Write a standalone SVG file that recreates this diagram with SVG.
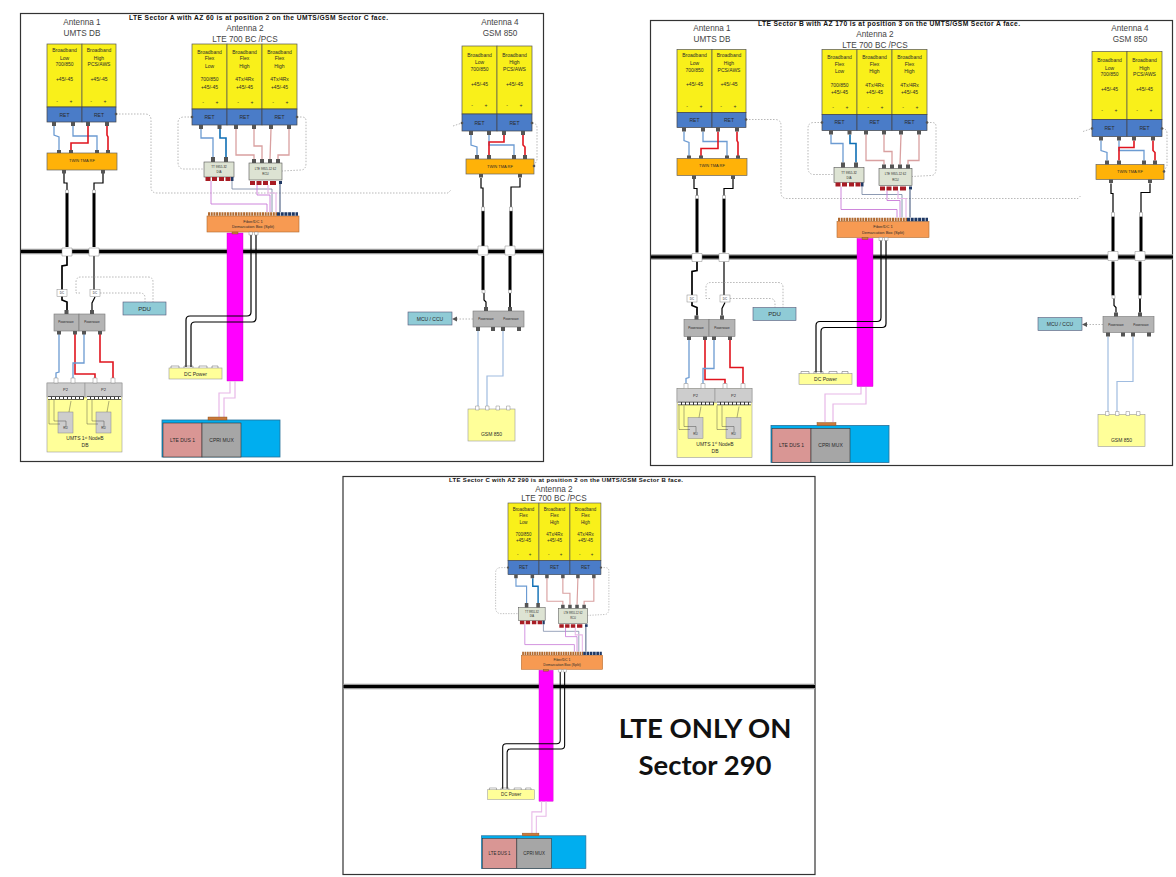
<svg xmlns="http://www.w3.org/2000/svg" width="1176" height="877" viewBox="0 0 1176 877">
<style>
text{font-family:"Liberation Sans",Arial,sans-serif;text-anchor:middle;fill:#2a2a2a}
.ttl{font-size:6.7px;font-weight:bold;fill:#111;text-anchor:start}
.h{font-size:8.2px;fill:#444}
.f5{font-size:5px}.f4{font-size:4px}.f3{font-size:3px}.f6{font-size:6px}
.big{font-family:Lato,"Liberation Sans",sans-serif;font-weight:bold;font-size:27.5px;fill:#111}
.fr{fill:#fff;stroke:#333;stroke-width:1.2}
.y{fill:#F9F01A;stroke:#555;stroke-width:.7}
.b{fill:#4A7CC8;stroke:#444;stroke-width:.7}
.tma{fill:#FFB208;stroke:#666;stroke-width:.7}
.grey{fill:#B4B4B4;stroke:#777;stroke-width:.6}
.py{fill:#FFFF99;stroke:#999;stroke-width:.6}
.pg{fill:#CDCDCD;stroke:#888;stroke-width:.5}
.rcu{fill:#DDE3D3;stroke:#555;stroke-width:.6}
.dem{fill:#F79A52;stroke:#B06A30;stroke-width:.6}
.teal{fill:#8FCBD6;stroke:#557;stroke-width:.6}
.cy{fill:#00AEEF;stroke:#26709A;stroke-width:.8}
.dus{fill:#D99694;stroke:#333;stroke-width:.6}
.mux{fill:#A6A6A6;stroke:#333;stroke-width:.6}
.mag{fill:#FF00FF;stroke:#C000C0;stroke-width:.4}
.wh{fill:#fff;stroke:#888;stroke-width:.5}
.pt{fill:#555}.rp{fill:#A81C24}.np{fill:#1F3864}.op{fill:#CC7A3A;stroke:#7A4A20;stroke-width:.4}
.w{fill:none}
.bl{stroke:#6C9BD2;stroke-width:1.3}.dbl{stroke:#0F6FB5;stroke-width:1.6}
.rd{stroke:#E0141E;stroke-width:1.6}.pk{stroke:#D9A0A0;stroke-width:1.3}
.mg{stroke:#C878D8;stroke-width:.9}.pp{stroke:#E8B8E8;stroke-width:1.2}
.nv{stroke:#1F3864;stroke-width:.9}.gb{stroke:#7080A0;stroke-width:.8}
.lb{stroke:#A0BCE0;stroke-width:1.2}
.k1{stroke:#000;stroke-width:1.2}.k2{stroke:#000;stroke-width:1.7}.k3{stroke:#000;stroke-width:3}
.th{stroke:#333;stroke-width:.4}
.ds{stroke:#9a9a9a;stroke-width:.7;stroke-dasharray:1.5 1.5}
.hg{stroke:#999;stroke-width:5.5}.hk{stroke:#000;stroke-width:3}
.rowk{stroke:#333;stroke-width:3.4}.rowo{stroke:#fff;stroke-width:2.2;stroke-dasharray:3 1}
</style>

<!-- ================ PANEL A ================ -->
<g id="panel-a">
<rect id="a-frame" class="fr" x="20.5" y="13.5" width="523" height="448"/>
<text class="ttl" x="129" y="19.5" textLength="259">LTE Sector A with AZ 60 is at position 2 on the UMTS/GSM Sector C face.</text>
<text class="h" x="82" y="25">Antenna 1</text><text class="h" x="82" y="36">UMTS DB</text>
<text class="h" x="245" y="31">Antenna 2</text><text class="h" x="245" y="42">LTE 700 BC /PCS</text>
<text class="h" x="500" y="25">Antenna 4</text><text class="h" x="500" y="36">GSM 850</text>
<g id="a-wall"><path class="w hg" d="M21 251.5H543"/><path class="w hk" d="M21 251.5H543"/></g>
<g id="a-fiber"><rect class="mag" x="227" y="233" width="16" height="148"/></g>
<g id="a-connectors">
<path class="w bl" d="M54 126V135L59 137V152"/><path class="w bl" d="M73 126V136H97V152"/><path class="w rd" d="M88 126V143H71V152"/><path class="w rd" d="M107 126V135L108 137V152"/>
<path class="w k1" d="M64 173V183H67V192"/><path class="w k1" d="M103 173V183H94V192"/>
<path class="w k3" d="M67 193V247"/><path class="w k3" d="M94 193V247"/>
<path class="w k2" d="M67 256V265L62 266V300L67 302V310"/><path class="w k1" d="M94 256V290"/><path class="w k1" d="M95 297L92 303V310"/>
<path class="w bl" d="M59 334V372L56 373V380"/><path class="w rd" d="M75 334V374H95V380"/><path class="w bl" d="M84 334V363H73V380"/><path class="w rd" d="M100 334V362H113V380"/>
<path class="w ds" d="M80 293H76V282Q76 277 81 277H148Q153 277 153 282V302"/><path class="w ds" d="M100 293H140Q145 293 145 298V302"/>
<path class="w bl" d="M201 129V138H213V157"/><path class="w dbl" d="M220 129V138H226V157"/>
<path class="w pk" d="M236 129V155H254V159"/><path class="w pk" d="M254 129V146H262V159"/><path class="w pk" d="M271 129L270 159"/><path class="w pk" d="M289 129V155H278V159"/>
<path class="w ds" d="M192 117H184Q178 117 178 123V162Q178 169 184 169H204"/><path class="w ds" d="M297 117H302Q306 117 306 121V163Q306 170 301 170L282 171"/>
<path class="w ds" d="M116 114H145Q151 114 151 120V187Q151 193 157 193H448L451 190"/>
<path class="w ds" d="M453 126L462 123"/><path class="w ds" d="M532 123Q537 123 537 128V160L534 166"/>
<path class="w gb" d="M232 181V189H272V212"/><path class="w mg" d="M211 181V204H267V212"/><path class="w mg" d="M257 185V195H270V212"/><path class="w pp" d="M268 185V193H276V212"/><path class="w nv" d="M280 184V212"/>
<path class="w k1" d="M251 233V312Q251 316 247 316H190Q186 316 186 320V367"/><path class="w k1" d="M256 233V318Q256 322 252 322H195Q191 322 191 326V367"/>
<path class="w pp" d="M230 381V393H219V418"/><path class="w pp" d="M235 381V398H224V418"/>
<path class="w bl" d="M471 135V145L477 147V155"/><path class="w bl" d="M489 135V145H514V155"/><path class="w rd" d="M504 135V142H489V155"/><path class="w rd" d="M523 135V145L525 147V155"/>
<path class="w k1" d="M481 178V188H483V207"/><path class="w k1" d="M520 178V187H511V207"/>
<path class="w k3" d="M483 211V246"/><path class="w k3" d="M511 211V246"/><path class="w k3" d="M483 256V290"/><path class="w k3" d="M510 256V290"/>
<path class="w k1" d="M484 292V300L486 302V307"/><path class="w k2" d="M510 292V307"/>
<path class="w lb" d="M478 331V408"/><path class="w lb" d="M503 331V376H487V408"/>
<path class="w ds" d="M473 319H456"/><path class="pt" d="M452 319L457 316.5V321.5Z"/>
</g>
<g id="a-couplers"><path class="wh" d="M62 248h10v8h-10zM89 248h10v8h-10zM478 246h10v9h-10zM505 246h10v9h-10zM65.500 190h3v3h-3zM92.500 190h3v3h-3zM481.500 207h3v4h-3zM509.500 207h3v4h-3zM482 290h3v3h-3zM508.500 290h3v3h-3z"/></g>
<g id="a-ant1">
<rect class="y" x="47" y="44" width="35" height="63"/><rect class="y" x="82" y="44" width="34" height="63"/>
<rect class="b" x="47" y="107" width="35" height="15"/><rect class="b" x="82" y="107" width="34" height="15"/>
<path class="pt" d="M52 122h4v4h-4zM71 122h4v4h-4zM86 122h4v4h-4zM105 122h4v4h-4z"/><circle class="pt" cx="116" cy="114" r="1.300"/>
<text class="f5" x="64.500" y="51.500">Broadband</text><text class="f5" x="64.500" y="59.500">Low</text><text class="f5" x="64.500" y="66">700/850</text><text class="f5" x="64.500" y="80.500">+45/-45</text><text class="f5" x="57" y="102.500">-</text><text class="f5" x="71" y="102.500">+</text><text class="f5" x="64.500" y="116.500">RET</text>
<text class="f5" x="99" y="51.500">Broadband</text><text class="f5" x="99" y="59.500">High</text><text class="f5" x="99" y="66">PCS/AWS</text><text class="f5" x="99" y="80.500">+45/-45</text><text class="f5" x="91" y="102.500">-</text><text class="f5" x="105" y="102.500">+</text><text class="f5" x="99" y="116.500">RET</text>
</g>
<g id="a-tma1"><rect class="tma" x="47" y="153" width="70" height="17"/><path class="pt" d="M57 150h4v3h-4zM69 150h4v3h-4zM95 150h4v3h-4zM106 150h4v3h-4zM62 170h4v3.500h-4zM101 170h4v3.500h-4z"/><text class="f4" x="82" y="161.500">TWIN TMA RF</text></g>
<g id="a-diplexer">
<rect class="wh" x="57" y="289.500" width="10" height="7"/><rect class="wh" x="90" y="289.500" width="10" height="7"/><text class="f3" x="62" y="294">DC</text><text class="f3" x="95" y="294">DC</text>
<rect class="grey" x="54" y="314" width="25" height="17"/><rect class="grey" x="79" y="314" width="26" height="17"/>
<path class="pt" d="M64.500 310h4v4h-4zM90 310h4v4h-4zM57 331h4v3.500h-4zM73 331h4v3.500h-4zM82 331h4v3.500h-4zM98 331h4v3.500h-4z"/>
<text class="f3" x="66" y="323">Powerwave</text><text class="f3" x="92" y="323">Powerwave</text>
</g>
<g id="a-nodeb">
<rect class="py" x="47" y="383" width="75" height="69"/><rect class="pg" x="47" y="383" width="38" height="14"/><rect class="pg" x="85" y="383" width="37" height="14"/>
<path class="wh" d="M54 378h4v5h-4zM71 378h4v5h-4zM93 378h4v5h-4zM111 378h4v5h-4z"/>
<path class="w rowk" d="M48 398H84M87 398H121"/><path class="w rowo" d="M48 398H84M87 398H121"/>
<text class="f4" x="65.500" y="391">P2</text><text class="f4" x="103.500" y="391">P2</text>
<rect class="pg" x="58" y="412" width="15" height="21"/><rect class="pg" x="96" y="412" width="15" height="21"/>
<path class="w th" d="M49 400V424H60M54 400V421H66V427M71 401L69 412M87 400V424H98M92 400V421H104V427M109 401L107 412"/>
<text class="f3" x="65.500" y="429">RU</text><text class="f3" x="103.500" y="429">RU</text>
<text class="f5" x="85" y="440">UMTS 1<tspan font-size="3" dy="-1.500">st</tspan><tspan dy="1.500"> NodeB</tspan></text><text class="f5" x="85" y="447">DB</text>
</g>
<g id="a-pdu"><rect class="teal" x="123" y="302" width="43" height="13"/><text class="f6" x="144.500" y="310.500">PDU</text></g>
<g id="a-ant2">
<rect class="y" x="192" y="44" width="35" height="65"/><rect class="y" x="227" y="44" width="35" height="65"/><rect class="y" x="262" y="44" width="35" height="65"/>
<rect class="b" x="192" y="109" width="35" height="16"/><rect class="b" x="227" y="109" width="35" height="16"/><rect class="b" x="262" y="109" width="35" height="16"/>
<path class="pt" d="M199 125h4v4h-4zM217.500 125h4v4h-4zM234 125h4v4h-4zM252 125h4v4h-4zM269 125h4v4h-4zM287 125h4v4h-4z"/><circle class="pt" cx="192" cy="117" r="1.300"/><circle class="pt" cx="297" cy="117" r="1.300"/>
<text class="f5" x="209.500" y="53.500">Broadband</text><text class="f5" x="209.500" y="60">Flex</text><text class="f5" x="209.500" y="67.700">Low</text><text class="f5" x="209.500" y="81">700/850</text><text class="f5" x="209.500" y="88.500">+45/-45</text><text class="f5" x="203" y="103.500">-</text><text class="f5" x="217" y="103.500">+</text><text class="f5" x="209.500" y="118.500">RET</text>
<text class="f5" x="244.500" y="53.500">Broadband</text><text class="f5" x="244.500" y="60">Flex</text><text class="f5" x="244.500" y="67.700">High</text><text class="f5" x="244.500" y="81">4Tx/4Rx</text><text class="f5" x="244.500" y="88.500">+45/-45</text><text class="f5" x="238" y="103.500">-</text><text class="f5" x="252" y="103.500">+</text><text class="f5" x="244.500" y="118.500">RET</text>
<text class="f5" x="279.500" y="53.500">Broadband</text><text class="f5" x="279.500" y="60">Flex</text><text class="f5" x="279.500" y="67.700">High</text><text class="f5" x="279.500" y="81">4Tx/4Rx</text><text class="f5" x="279.500" y="88.500">+45/-45</text><text class="f5" x="273" y="103.500">-</text><text class="f5" x="287" y="103.500">+</text><text class="f5" x="279.500" y="118.500">RET</text>
</g>
<g id="a-diplexer2"><rect class="rcu" x="204" y="162" width="30" height="15"/><path class="pt" d="M211 157h4v5h-4zM224 157h4v5h-4z"/><path class="rp" d="M205.500 177h5v4h-5zM212 177h5v4h-5zM219 177h5v4h-5zM225.500 177h5v4h-5z"/><path class="np" d="M231 177h2.500v4h-2.500z"/><text class="f3" x="219" y="168">TT 9955-32</text><text class="f3" x="219" y="173">DIA</text></g>
<g id="a-diplexer3"><rect class="rcu" x="249" y="163" width="33" height="17"/><path class="pt" d="M252 159h4v4h-4zM260 159h4v4h-4zM268 159h4v4h-4zM276 159h4v4h-4z"/><path class="rp" d="M250 181h5v4h-5zM256.500 181h5v4h-5zM263 181h5v4h-5zM270 181h6v4h-6z"/><path class="np" d="M279 181h3v3h-3z"/><text class="f3" x="265.500" y="169.500">LTE 9955-12 62</text><text class="f3" x="265.500" y="175">RCU</text></g>
<g id="a-demarc"><rect class="dem" x="207" y="216" width="92" height="16"/><path class="w" stroke="#B06A30" stroke-width="3.600" stroke-dasharray="2 .7" d="M208 214H277"/><path class="w" stroke="#1F3864" stroke-width="3.600" stroke-dasharray="3 .7" d="M277 214H298"/><text class="f4" x="253" y="222.500">Fiber/DC 1</text><text class="f4" x="253" y="228">Demarcation Box (Split)</text><path class="wh" d="M249 232h3.500v3h-3.500zM254.500 232h3.500v3h-3.500z"/><rect class="op" x="232" y="232" width="6" height="2"/></g>
<g id="a-dcpower"><rect class="py" x="169" y="368" width="53" height="11"/><path class="w th" d="M171 368v-2h8v2M184 368v-2h9v2M199 368v-2h8v2M212 368v-2h6v2"/><text class="f5" x="195.500" y="375.500">DC Power</text></g>
<g id="a-bbu"><rect class="cy" x="162" y="420" width="118" height="37"/><rect class="dus" x="163" y="423" width="39" height="34"/><rect class="mux" x="202" y="423" width="39" height="34"/><rect class="op" x="208" y="417" width="19" height="3"/><text class="f5" x="182.500" y="441.500">LTE DUS 1</text><text class="f5" x="221.500" y="441.500">CPRI MUX</text></g>
<g id="a-ant4">
<rect class="y" x="462" y="46" width="35" height="68"/><rect class="y" x="497" y="46" width="35" height="68"/>
<rect class="b" x="462" y="114" width="35" height="17"/><rect class="b" x="497" y="114" width="35" height="17"/>
<path class="pt" d="M469 131h4v4h-4zM487 131h4v4h-4zM502 131h4v4h-4zM521 131h4v4h-4z"/><circle class="pt" cx="462" cy="123" r="1.300"/><circle class="pt" cx="532" cy="123" r="1.300"/>
<text class="f5" x="479.500" y="56.700">Broadband</text><text class="f5" x="479.500" y="64">Low</text><text class="f5" x="479.500" y="70.700">700/850</text><text class="f5" x="479.500" y="85.700">+45/-45</text><text class="f5" x="472" y="106.700">-</text><text class="f5" x="486" y="106.700">+</text><text class="f5" x="479.500" y="124.500">RET</text>
<text class="f5" x="514.500" y="56.700">Broadband</text><text class="f5" x="514.500" y="64">High</text><text class="f5" x="514.500" y="70.700">PCS/AWS</text><text class="f5" x="514.500" y="85.700">+45/-45</text><text class="f5" x="507" y="106.700">-</text><text class="f5" x="521" y="106.700">+</text><text class="f5" x="514.500" y="124.500">RET</text>
</g>
<g id="a-tma4"><rect class="tma" x="466" y="159" width="68" height="15"/><path class="pt" d="M475 155h4v4h-4zM487 155h4v4h-4zM512 155h4v4h-4zM523 155h4v4h-4zM479 174h4v3.500h-4zM518 174h4v3.500h-4z"/><circle class="pt" cx="534" cy="166" r="1.300"/><text class="f4" x="500" y="167.500">TWIN TMA RF</text></g>
<g id="a-diplexer4"><rect class="grey" x="473" y="311" width="51" height="16"/><path class="pt" d="M484 307h4v4h-4zM508 307h4v4h-4zM476 327h4v4h-4zM491 327h4v4h-4zM501 327h4v4h-4zM517 327h4v4h-4z"/><text class="f3" x="486" y="320">Powerwave</text><text class="f3" x="511" y="320">Powerwave</text></g>
<g id="a-mcu"><rect class="teal" x="408" y="312" width="44" height="13"/><text class="f5" x="430" y="320.500">MCU / CCU</text></g>
<g id="a-gsm"><rect class="py" x="468" y="409" width="47" height="32"/><path class="wh" d="M475.500 406h3.500v4h-3.500zM485.500 406h3.500v4h-3.500zM496 406h3.500v4h-3.500zM506.500 406h3.500v4h-3.500z"/><text class="f5" x="491.500" y="436">GSM 850</text></g>
</g>

<!-- ================ PANEL B ================ -->
<g id="panel-b">
<rect id="b-frame" class="fr" x="650.500" y="20.500" width="522" height="445"/>
<text class="ttl" x="758" y="25.500" textLength="262">LTE Sector B with AZ 170 is at position 3 on the UMTS/GSM Sector A face.</text>
<g transform="translate(630,5.500)">
<text class="h" x="82" y="25">Antenna 1</text><text class="h" x="82" y="36">UMTS DB</text>
<text class="h" x="245" y="31">Antenna 2</text><text class="h" x="245" y="42">LTE 700 BC /PCS</text>
<text class="h" x="500" y="25">Antenna 4</text><text class="h" x="500" y="36">GSM 850</text>
<g id="b-wall"><path class="w hg" d="M21 251.500H543"/><path class="w hk" d="M21 251.500H543"/></g>
<g id="b-fiber"><rect class="mag" x="227" y="233" width="16" height="148"/></g>
<g id="b-connectors">
<path class="w bl" d="M54 126V135L59 137V152"/><path class="w bl" d="M73 126V136H97V152"/><path class="w rd" d="M88 126V143H71V152"/><path class="w rd" d="M107 126V135L108 137V152"/>
<path class="w k1" d="M64 173V183H67V192"/><path class="w k1" d="M103 173V183H94V192"/>
<path class="w k3" d="M67 193V247"/><path class="w k3" d="M94 193V247"/>
<path class="w k2" d="M67 256V265L62 266V300L67 302V310"/><path class="w k1" d="M94 256V290"/><path class="w k1" d="M95 297L92 303V310"/>
<path class="w bl" d="M59 334V372L56 373V380"/><path class="w rd" d="M75 334V374H95V380"/><path class="w bl" d="M84 334V363H73V380"/><path class="w rd" d="M100 334V362H113V380"/>
<path class="w ds" d="M80 293H76V282Q76 277 81 277H148Q153 277 153 282V302"/><path class="w ds" d="M100 293H140Q145 293 145 298V302"/>
<path class="w bl" d="M201 129V138H213V157"/><path class="w dbl" d="M220 129V138H226V157"/>
<path class="w pk" d="M236 129V155H254V159"/><path class="w pk" d="M254 129V146H262V159"/><path class="w pk" d="M271 129L270 159"/><path class="w pk" d="M289 129V155H278V159"/>
<path class="w ds" d="M192 117H184Q178 117 178 123V162Q178 169 184 169H204"/><path class="w ds" d="M297 117H302Q306 117 306 121V163Q306 170 301 170L282 171"/>
<path class="w ds" d="M116 114H145Q151 114 151 120V187Q151 193 157 193H448L451 190"/>
<path class="w ds" d="M453 126L462 123"/><path class="w ds" d="M532 123Q537 123 537 128V160L534 166"/>
<path class="w gb" d="M232 181V189H272V212"/><path class="w mg" d="M211 181V204H267V212"/><path class="w mg" d="M257 185V195H270V212"/><path class="w pp" d="M268 185V193H276V212"/><path class="w nv" d="M280 184V212"/>
<path class="w k1" d="M251 233V312Q251 316 247 316H190Q186 316 186 320V367"/><path class="w k1" d="M256 233V318Q256 322 252 322H195Q191 322 191 326V367"/>
<path class="w bl" d="M471 135V145L477 147V155"/><path class="w bl" d="M489 135V145H514V155"/><path class="w rd" d="M504 135V142H489V155"/><path class="w rd" d="M523 135V145L525 147V155"/>
<path class="w k1" d="M481 178V188H483V207"/><path class="w k1" d="M520 178V187H511V207"/>
<path class="w k3" d="M483 211V246"/><path class="w k3" d="M511 211V246"/><path class="w k3" d="M483 256V290"/><path class="w k3" d="M510 256V290"/>
<path class="w k1" d="M484 292V300L486 302V307"/><path class="w k2" d="M510 292V307"/>
<path class="w lb" d="M478 331V408"/><path class="w lb" d="M503 331V376H487V408"/>
<path class="w ds" d="M473 319H456"/><path class="pt" d="M452 319L457 316.500V321.500Z"/>
</g>
<g id="b-couplers"><path class="wh" d="M62 248h10v8h-10zM89 248h10v8h-10zM478 246h10v9h-10zM505 246h10v9h-10zM65.500 190h3v3h-3zM92.500 190h3v3h-3zM481.500 207h3v4h-3zM509.500 207h3v4h-3zM482 290h3v3h-3zM508.500 290h3v3h-3z"/></g>
<g id="b-ant1">
<rect class="y" x="47" y="44" width="35" height="63"/><rect class="y" x="82" y="44" width="34" height="63"/>
<rect class="b" x="47" y="107" width="35" height="15"/><rect class="b" x="82" y="107" width="34" height="15"/>
<path class="pt" d="M52 122h4v4h-4zM71 122h4v4h-4zM86 122h4v4h-4zM105 122h4v4h-4z"/><circle class="pt" cx="116" cy="114" r="1.300"/>
<text class="f5" x="64.500" y="51.500">Broadband</text><text class="f5" x="64.500" y="59.500">Low</text><text class="f5" x="64.500" y="66">700/850</text><text class="f5" x="64.500" y="80.500">+45/-45</text><text class="f5" x="57" y="102.500">-</text><text class="f5" x="71" y="102.500">+</text><text class="f5" x="64.500" y="116.500">RET</text>
<text class="f5" x="99" y="51.500">Broadband</text><text class="f5" x="99" y="59.500">High</text><text class="f5" x="99" y="66">PCS/AWS</text><text class="f5" x="99" y="80.500">+45/-45</text><text class="f5" x="91" y="102.500">-</text><text class="f5" x="105" y="102.500">+</text><text class="f5" x="99" y="116.500">RET</text>
</g>
<g id="b-tma1"><rect class="tma" x="47" y="153" width="70" height="17"/><path class="pt" d="M57 150h4v3h-4zM69 150h4v3h-4zM95 150h4v3h-4zM106 150h4v3h-4zM62 170h4v3.500h-4zM101 170h4v3.500h-4z"/><text class="f4" x="82" y="161.500">TWIN TMA RF</text></g>
<g id="b-diplexer">
<rect class="wh" x="57" y="289.500" width="10" height="7"/><rect class="wh" x="90" y="289.500" width="10" height="7"/><text class="f3" x="62" y="294">DC</text><text class="f3" x="95" y="294">DC</text>
<rect class="grey" x="54" y="314" width="25" height="17"/><rect class="grey" x="79" y="314" width="26" height="17"/>
<path class="pt" d="M64.500 310h4v4h-4zM90 310h4v4h-4zM57 331h4v3.500h-4zM73 331h4v3.500h-4zM82 331h4v3.500h-4zM98 331h4v3.500h-4z"/>
<text class="f3" x="66" y="323">Powerwave</text><text class="f3" x="92" y="323">Powerwave</text>
</g>
<g id="b-nodeb">
<rect class="py" x="47" y="383" width="75" height="69"/><rect class="pg" x="47" y="383" width="38" height="14"/><rect class="pg" x="85" y="383" width="37" height="14"/>
<path class="wh" d="M54 378h4v5h-4zM71 378h4v5h-4zM93 378h4v5h-4zM111 378h4v5h-4z"/>
<path class="w rowk" d="M48 398H84M87 398H121"/><path class="w rowo" d="M48 398H84M87 398H121"/>
<text class="f4" x="65.500" y="391">P2</text><text class="f4" x="103.500" y="391">P2</text>
<rect class="pg" x="58" y="412" width="15" height="21"/><rect class="pg" x="96" y="412" width="15" height="21"/>
<path class="w th" d="M49 400V424H60M54 400V421H66V427M71 401L69 412M87 400V424H98M92 400V421H104V427M109 401L107 412"/>
<text class="f3" x="65.500" y="429">RU</text><text class="f3" x="103.500" y="429">RU</text>
<text class="f5" x="85" y="440">UMTS 1<tspan font-size="3" dy="-1.500">st</tspan><tspan dy="1.500"> NodeB</tspan></text><text class="f5" x="85" y="447">DB</text>
</g>
<g id="b-pdu"><rect class="teal" x="123" y="302" width="43" height="13"/><text class="f6" x="144.500" y="310.500">PDU</text></g>
<g id="b-ant2">
<rect class="y" x="192" y="44" width="35" height="65"/><rect class="y" x="227" y="44" width="35" height="65"/><rect class="y" x="262" y="44" width="35" height="65"/>
<rect class="b" x="192" y="109" width="35" height="16"/><rect class="b" x="227" y="109" width="35" height="16"/><rect class="b" x="262" y="109" width="35" height="16"/>
<path class="pt" d="M199 125h4v4h-4zM217.500 125h4v4h-4zM234 125h4v4h-4zM252 125h4v4h-4zM269 125h4v4h-4zM287 125h4v4h-4z"/><circle class="pt" cx="192" cy="117" r="1.300"/><circle class="pt" cx="297" cy="117" r="1.300"/>
<text class="f5" x="209.500" y="53.500">Broadband</text><text class="f5" x="209.500" y="60">Flex</text><text class="f5" x="209.500" y="67.700">Low</text><text class="f5" x="209.500" y="81">700/850</text><text class="f5" x="209.500" y="88.500">+45/-45</text><text class="f5" x="203" y="103.500">-</text><text class="f5" x="217" y="103.500">+</text><text class="f5" x="209.500" y="118.500">RET</text>
<text class="f5" x="244.500" y="53.500">Broadband</text><text class="f5" x="244.500" y="60">Flex</text><text class="f5" x="244.500" y="67.700">High</text><text class="f5" x="244.500" y="81">4Tx/4Rx</text><text class="f5" x="244.500" y="88.500">+45/-45</text><text class="f5" x="238" y="103.500">-</text><text class="f5" x="252" y="103.500">+</text><text class="f5" x="244.500" y="118.500">RET</text>
<text class="f5" x="279.500" y="53.500">Broadband</text><text class="f5" x="279.500" y="60">Flex</text><text class="f5" x="279.500" y="67.700">High</text><text class="f5" x="279.500" y="81">4Tx/4Rx</text><text class="f5" x="279.500" y="88.500">+45/-45</text><text class="f5" x="273" y="103.500">-</text><text class="f5" x="287" y="103.500">+</text><text class="f5" x="279.500" y="118.500">RET</text>
</g>
<g id="b-diplexer2"><rect class="rcu" x="204" y="162" width="30" height="15"/><path class="pt" d="M211 157h4v5h-4zM224 157h4v5h-4z"/><path class="rp" d="M205.500 177h5v4h-5zM212 177h5v4h-5zM219 177h5v4h-5zM225.500 177h5v4h-5z"/><path class="np" d="M231 177h2.500v4h-2.500z"/><text class="f3" x="219" y="168">TT 9955-32</text><text class="f3" x="219" y="173">DIA</text></g>
<g id="b-diplexer3"><rect class="rcu" x="249" y="163" width="33" height="17"/><path class="pt" d="M252 159h4v4h-4zM260 159h4v4h-4zM268 159h4v4h-4zM276 159h4v4h-4z"/><path class="rp" d="M250 181h5v4h-5zM256.500 181h5v4h-5zM263 181h5v4h-5zM270 181h6v4h-6z"/><path class="np" d="M279 181h3v3h-3z"/><text class="f3" x="265.500" y="169.500">LTE 9955-12 62</text><text class="f3" x="265.500" y="175">RCU</text></g>
<g id="b-demarc"><rect class="dem" x="207" y="216" width="92" height="16"/><path class="w" stroke="#B06A30" stroke-width="3.600" stroke-dasharray="2 .7" d="M208 214H277"/><path class="w" stroke="#1F3864" stroke-width="3.600" stroke-dasharray="3 .7" d="M277 214H298"/><text class="f4" x="253" y="222.500">Fiber/DC 1</text><text class="f4" x="253" y="228">Demarcation Box (Split)</text><path class="wh" d="M249 232h3.500v3h-3.500zM254.500 232h3.500v3h-3.500z"/><rect class="op" x="232" y="232" width="6" height="2"/></g>
<g id="b-dcpower"><rect class="py" x="169" y="368" width="53" height="11"/><path class="w th" d="M171 368v-2h8v2M184 368v-2h9v2M199 368v-2h8v2M212 368v-2h6v2"/><text class="f5" x="195.500" y="375.500">DC Power</text></g>
<g id="b-ant4">
<rect class="y" x="462" y="46" width="35" height="68"/><rect class="y" x="497" y="46" width="35" height="68"/>
<rect class="b" x="462" y="114" width="35" height="17"/><rect class="b" x="497" y="114" width="35" height="17"/>
<path class="pt" d="M469 131h4v4h-4zM487 131h4v4h-4zM502 131h4v4h-4zM521 131h4v4h-4z"/><circle class="pt" cx="462" cy="123" r="1.300"/><circle class="pt" cx="532" cy="123" r="1.300"/>
<text class="f5" x="479.500" y="56.700">Broadband</text><text class="f5" x="479.500" y="64">Low</text><text class="f5" x="479.500" y="70.700">700/850</text><text class="f5" x="479.500" y="85.700">+45/-45</text><text class="f5" x="472" y="106.700">-</text><text class="f5" x="486" y="106.700">+</text><text class="f5" x="479.500" y="124.500">RET</text>
<text class="f5" x="514.500" y="56.700">Broadband</text><text class="f5" x="514.500" y="64">High</text><text class="f5" x="514.500" y="70.700">PCS/AWS</text><text class="f5" x="514.500" y="85.700">+45/-45</text><text class="f5" x="507" y="106.700">-</text><text class="f5" x="521" y="106.700">+</text><text class="f5" x="514.500" y="124.500">RET</text>
</g>
<g id="b-tma4"><rect class="tma" x="466" y="159" width="68" height="15"/><path class="pt" d="M475 155h4v4h-4zM487 155h4v4h-4zM512 155h4v4h-4zM523 155h4v4h-4zM479 174h4v3.500h-4zM518 174h4v3.500h-4z"/><circle class="pt" cx="534" cy="166" r="1.300"/><text class="f4" x="500" y="167.500">TWIN TMA RF</text></g>
<g id="b-diplexer4"><rect class="grey" x="473" y="311" width="51" height="16"/><path class="pt" d="M484 307h4v4h-4zM508 307h4v4h-4zM476 327h4v4h-4zM491 327h4v4h-4zM501 327h4v4h-4zM517 327h4v4h-4z"/><text class="f3" x="486" y="320">Powerwave</text><text class="f3" x="511" y="320">Powerwave</text></g>
<g id="b-mcu"><rect class="teal" x="408" y="312" width="44" height="13"/><text class="f5" x="430" y="320.500">MCU / CCU</text></g>
<g id="b-gsm"><rect class="py" x="468" y="409" width="47" height="32"/><path class="wh" d="M475.500 406h3.500v4h-3.500zM485.500 406h3.500v4h-3.500zM496 406h3.500v4h-3.500zM506.500 406h3.500v4h-3.500z"/><text class="f5" x="491.500" y="436">GSM 850</text></g>
</g>
<g id="b-connectors-fiber"><path class="w pp" d="M861 387V394H825V422"/><path class="w pp" d="M866 387V404H833V422"/></g>
<g id="b-bbu" transform="translate(609,5.500)"><rect class="cy" x="162" y="420" width="118" height="37"/><rect class="dus" x="163" y="423" width="39" height="34"/><rect class="mux" x="202" y="423" width="39" height="34"/><rect class="op" x="208" y="417" width="19" height="3"/><text class="f5" x="182.500" y="441.500">LTE DUS 1</text><text class="f5" x="221.500" y="441.500">CPRI MUX</text></g>
</g>

<!-- ================ PANEL C ================ -->
<g id="panel-c">
<rect id="c-frame" class="fr" x="343" y="476.500" width="472" height="398"/>
<g id="c-wall"><path class="w hg" d="M343.500 686.500H815"/><path class="w hk" d="M343.500 686.500H815"/></g>
<text class="ttl" x="449" y="481.500" textLength="234" style="font-size:6px">LTE Sector C  with AZ 290 is at position 2 on the UMTS/GSM Sector B face.</text>
<text class="h" x="554" y="492">Antenna 2</text><text class="h" x="554" y="501">LTE 700 BC /PCS</text>
<g transform="translate(338.080,464.060) scale(.885)">
<g id="c-fiber"><rect class="mag" x="227" y="233" width="16" height="148"/></g>
<g id="c-connectors">
<path class="w bl" d="M201 129V138H213V157"/><path class="w dbl" d="M220 129V138H226V157"/>
<path class="w pk" d="M236 129V155H254V159"/><path class="w pk" d="M254 129V146H262V159"/><path class="w pk" d="M271 129L270 159"/><path class="w pk" d="M289 129V155H278V159"/>
<path class="w ds" d="M192 117H184Q178 117 178 123V162Q178 169 184 169H204"/><path class="w ds" d="M297 117H302Q306 117 306 121V163Q306 170 301 170L282 171"/>
<path class="w gb" d="M232 181V189H272V212"/><path class="w mg" d="M211 181V204H267V212"/><path class="w mg" d="M257 185V195H270V212"/><path class="w pp" d="M268 185V193H276V212"/><path class="w nv" d="M280 184V212"/>
<path class="w k1" d="M251 233V312Q251 316 247 316H190Q186 316 186 320V367"/><path class="w k1" d="M256 233V318Q256 322 252 322H195Q191 322 191 326V367"/>
<path class="w pp" d="M230 381V393H219V418"/><path class="w pp" d="M235 381V398H224V418"/>
</g>
<g id="c-ant2">
<rect class="y" x="192" y="44" width="35" height="65"/><rect class="y" x="227" y="44" width="35" height="65"/><rect class="y" x="262" y="44" width="35" height="65"/>
<rect class="b" x="192" y="109" width="35" height="16"/><rect class="b" x="227" y="109" width="35" height="16"/><rect class="b" x="262" y="109" width="35" height="16"/>
<path class="pt" d="M199 125h4v4h-4zM217.500 125h4v4h-4zM234 125h4v4h-4zM252 125h4v4h-4zM269 125h4v4h-4zM287 125h4v4h-4z"/><circle class="pt" cx="192" cy="117" r="1.300"/><circle class="pt" cx="297" cy="117" r="1.300"/>
<text class="f5" x="209.500" y="53.500">Broadband</text><text class="f5" x="209.500" y="60">Flex</text><text class="f5" x="209.500" y="67.700">Low</text><text class="f5" x="209.500" y="81">700/850</text><text class="f5" x="209.500" y="88.500">+45/-45</text><text class="f5" x="203" y="103.500">-</text><text class="f5" x="217" y="103.500">+</text><text class="f5" x="209.500" y="118.500">RET</text>
<text class="f5" x="244.500" y="53.500">Broadband</text><text class="f5" x="244.500" y="60">Flex</text><text class="f5" x="244.500" y="67.700">High</text><text class="f5" x="244.500" y="81">4Tx/4Rx</text><text class="f5" x="244.500" y="88.500">+45/-45</text><text class="f5" x="238" y="103.500">-</text><text class="f5" x="252" y="103.500">+</text><text class="f5" x="244.500" y="118.500">RET</text>
<text class="f5" x="279.500" y="53.500">Broadband</text><text class="f5" x="279.500" y="60">Flex</text><text class="f5" x="279.500" y="67.700">High</text><text class="f5" x="279.500" y="81">4Tx/4Rx</text><text class="f5" x="279.500" y="88.500">+45/-45</text><text class="f5" x="273" y="103.500">-</text><text class="f5" x="287" y="103.500">+</text><text class="f5" x="279.500" y="118.500">RET</text>
</g>
<g id="c-diplexer2"><rect class="rcu" x="204" y="162" width="30" height="15"/><path class="pt" d="M211 157h4v5h-4zM224 157h4v5h-4z"/><path class="rp" d="M205.500 177h5v4h-5zM212 177h5v4h-5zM219 177h5v4h-5zM225.500 177h5v4h-5z"/><path class="np" d="M231 177h2.500v4h-2.500z"/><text class="f3" x="219" y="168">TT 9955-32</text><text class="f3" x="219" y="173">DIA</text></g>
<g id="c-diplexer3"><rect class="rcu" x="249" y="163" width="33" height="17"/><path class="pt" d="M252 159h4v4h-4zM260 159h4v4h-4zM268 159h4v4h-4zM276 159h4v4h-4z"/><path class="rp" d="M250 181h5v4h-5zM256.500 181h5v4h-5zM263 181h5v4h-5zM270 181h6v4h-6z"/><path class="np" d="M279 181h3v3h-3z"/><text class="f3" x="265.500" y="169.500">LTE 9955-12 62</text><text class="f3" x="265.500" y="175">RCU</text></g>
<g id="c-demarc"><rect class="dem" x="207" y="216" width="92" height="16"/><path class="w" stroke="#B06A30" stroke-width="3.600" stroke-dasharray="2 .7" d="M208 214H277"/><path class="w" stroke="#1F3864" stroke-width="3.600" stroke-dasharray="3 .7" d="M277 214H298"/><text class="f4" x="253" y="222.500">Fiber/DC 1</text><text class="f4" x="253" y="228">Demarcation Box (Split)</text><path class="wh" d="M249 232h3.500v3h-3.500zM254.500 232h3.500v3h-3.500z"/><rect class="op" x="232" y="232" width="6" height="2"/></g>
<g id="c-dcpower"><rect class="py" x="169" y="368" width="53" height="11"/><path class="w th" d="M171 368v-2h8v2M184 368v-2h9v2M199 368v-2h8v2M212 368v-2h6v2"/><text class="f5" x="195.500" y="375.500">DC Power</text></g>
<g id="c-bbu"><rect class="cy" x="162" y="420" width="118" height="37"/><rect class="dus" x="163" y="423" width="39" height="34"/><rect class="mux" x="202" y="423" width="39" height="34"/><rect class="op" x="208" y="417" width="19" height="3"/><text class="f5" x="182.500" y="441.500">LTE DUS 1</text><text class="f5" x="221.500" y="441.500">CPRI MUX</text></g>
</g>
<text class="big" x="705" y="738">LTE ONLY ON</text><text class="big" x="705" y="775">Sector 290</text>
</g>
</svg>
